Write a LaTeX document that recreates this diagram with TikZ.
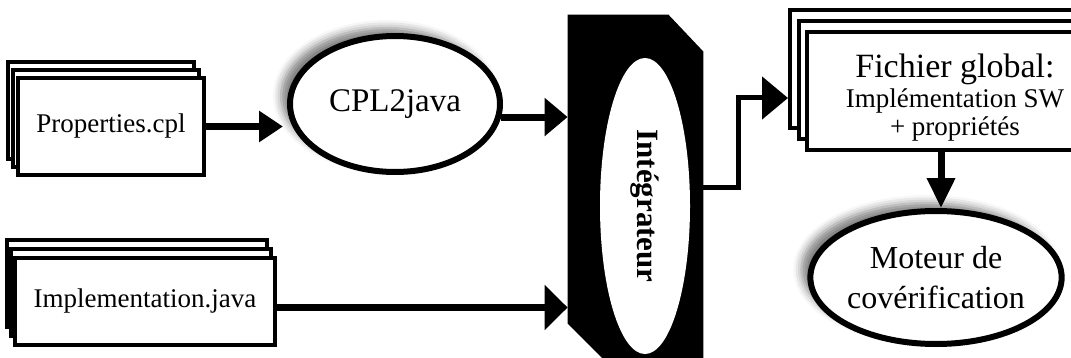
\documentclass[tikz,border=0pt]{standalone}
\usepackage{fontspec}
\setmainfont{Liberation Serif}
\usetikzlibrary{arrows.meta,shapes.geometric,shadows,shadows.blur}

\begin{document}
\begin{tikzpicture}[x=0.5pt, y=-0.5pt, font=\fontsize{13.5}{16}\selectfont]
    \tikzset{
        file node/.style={draw, fill=white, line width=2pt, inner sep=0pt},
        tool node/.style={ellipse, draw, fill=white, line width=3pt, inner sep=0pt,
            blur shadow={shadow xshift=-4.5pt, shadow yshift=4pt, shadow blur radius=4pt, shadow opacity=50}},
        big arrow/.style={line width=3.5pt}
    }
    \useasboundingbox (0,0) rectangle (1071,358);

    % Nodes
    \node (prop) [file node, double copy shadow={shadow xshift=-2.5pt, shadow yshift=4pt},
        minimum width=93pt, minimum height=48.5pt] at (111,126.5) {Properties.cpl};
    \node (impl) [file node, double copy shadow={shadow xshift=-2pt, shadow yshift=4.5pt},
        minimum width=130pt, minimum height=43.5pt] at (145,301.5) {Implementation.java};

    \node (cpl) [tool node, minimum width=105pt, minimum height=68pt,
        font=\fontsize{16.5}{18}\selectfont] at (395,104) {CPL2java};

    \node (integ) [minimum width=67.5pt, minimum height=172.5pt, inner sep=0pt] at (635.5,187.5) {};
    \fill (integ.north west) -- ([xshift=-17.5pt]integ.north east) -- ([yshift=-18.5pt]integ.north east)
        -- (integ.south east) -- ([xshift=18.5pt]integ.south west) -- ([yshift=18.5pt]integ.south west) -- cycle;
    \node (integtxt) [ellipse, fill=white, rotate=-90, minimum width=148pt, minimum height=45pt,
        inner sep=0pt, font=\fontsize{15.5}{18}\selectfont\bfseries] at (645,206) {Intégrateur};

    \node (fich) [file node, double copy shadow={shadow xshift=-4.25pt, shadow yshift=5.5pt},
        minimum width=148pt, minimum height=59pt, align=center, font=\fontsize{13.5}{14}\selectfont]
        at (955,91) {\rule{0pt}{18pt}{\fontsize{17}{19}\selectfont Fichier global:}\\[1pt] Implémentation SW\\ + propriétés};

    \node (moteur) [tool node, minimum width=118.5pt, minimum height=66.5pt, align=center,
        font=\fontsize{16}{20}\selectfont] at (936,277.5) {Moteur de\\covérification};

    % Arrows
    \draw [big arrow, -{Triangle[length=12pt, width=15pt]}] (prop.east) -- ([xshift=-2pt]prop.east -| cpl.west);
    \draw [big arrow, -{Triangle[length=11.5pt, width=18.5pt]}] (cpl.-7) -- (cpl.-7 -| integ.west);
    \draw [big arrow, -{Triangle[length=11.5pt, width=22pt]}] ([yshift=-3pt]impl.east) -- ([yshift=-3pt]impl.east -| integ.west);
    \draw [line width=2.5pt, -{Triangle[length=13pt, width=21pt]}] (integ.east) -- ++(17.5pt,0)
        |- ([xshift=-8.5pt, yshift=-3.5pt]fich.west);
    \draw [big arrow, -{Triangle[length=15pt, width=13.5pt]}] ([xshift=-7pt]fich.south)
        -- ([xshift=-7pt]fich.south |- moteur.north);
\end{tikzpicture}
\end{document}
